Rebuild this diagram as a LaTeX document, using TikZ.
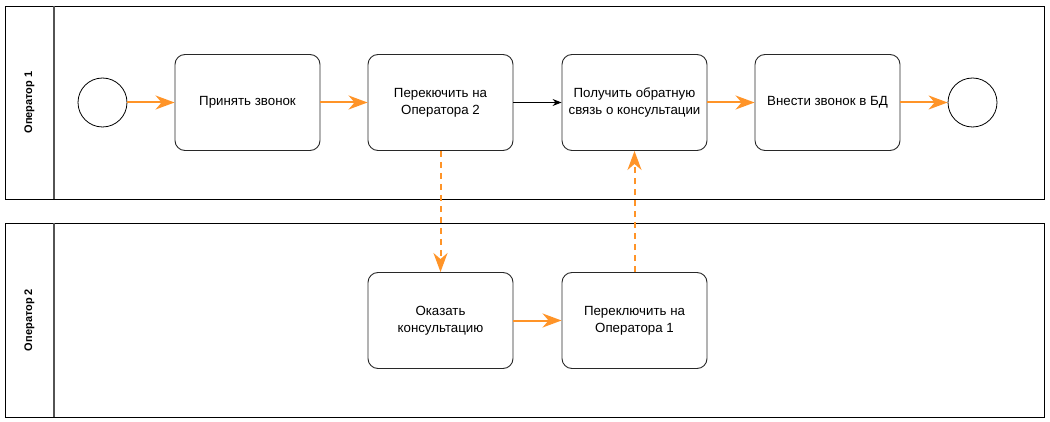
\documentclass[tikz,border=0pt]{standalone}
\usepackage{fontspec}
\setmainfont{Liberation Sans}
\usetikzlibrary{arrows.meta}
\definecolor{flow}{RGB}{255,148,40}
\definecolor{edge}{RGB}{40,40,40}
\tikzset{
  x=1pt,y=-1pt,
  task/.style={draw=edge,line width=0.9pt,rounded corners=10pt,minimum width=145pt,minimum height=96pt,align=center,font=\fontsize{13.3}{17}\selectfont,inner sep=2pt},
  event/.style={draw=black,line width=0.8pt,circle,minimum size=49pt,inner sep=0pt},
  lane/.style={draw=black,line width=0.9pt},
  flowarrow/.style={draw=flow,line width=2pt,-{Stealth[inset=6pt,length=19pt,width=14pt]}},
  msgarrow/.style={flowarrow,dash pattern=on 6pt off 5pt},
  plainarrow/.style={draw=black,line width=0.8pt,-{Stealth[inset=3pt,length=9pt,width=7pt]}},
  lanelabel/.style={rotate=90,font=\bfseries\fontsize{11}{13}\selectfont}
}
\begin{document}
\begin{tikzpicture}
\useasboundingbox (0,0) rectangle (1050,422);
% lanes
\draw[lane] (5,6) rectangle (1044,199);
\draw[draw=edge!80,line width=1.2pt] (54,6) -- (54,199);
\node[lanelabel] (l1) at (29.5,102.5) {Оператор 1};
\draw[lane] (5,223) rectangle (1044,417);
\draw[draw=edge!80,line width=1.2pt] (54,223) -- (54,417);
\node[lanelabel] (l2) at (29.5,320) {Оператор 2};
% nodes
\node[event] (s) at (102.5,102.5) {};
\node[task] (t1) at (247.5,102.5) {Принять звонок};
\node[task] (t2) at (440.5,102.5) {Перекючить на\\Оператора 2};
\node[task] (t3) at (634.5,102.5) {Получить обратную\\связь о консультации};
\node[task] (t4) at (827.5,102.5) {Внести звонок в БД};
\node[event] (e) at (972.5,102.5) {};
\node[task] (t5) at (440.5,320.5) {Оказать\\консультацию};
\node[task] (t6) at (634.5,320.5) {Переключить на\\Оператора 1};
% connectors
\draw[flowarrow] (s) -- (t1);
\draw[flowarrow] (t1) -- (t2);
\draw[plainarrow] (t2) -- (t3);
\draw[flowarrow] (t3) -- (t4);
\draw[flowarrow] (t4) -- (e);
\draw[flowarrow] (t5) -- (t6);
\draw[msgarrow] (t2) -- (t5);
\draw[msgarrow] (t6) -- (t3);
\end{tikzpicture}
\end{document}
